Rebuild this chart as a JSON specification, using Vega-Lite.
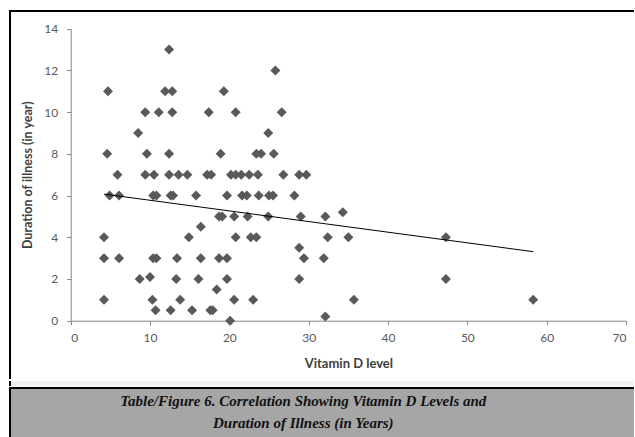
{
  "$schema": "https://vega.github.io/schema/vega-lite/v6.json",
  "background": "white",
  "padding": {"left": 9, "top": 10, "right": 0, "bottom": 0},
  "spacing": 0,
  "config": {"font": "Lato", "axis": {"grid": false}},
  "vconcat": [
    {
      "width": 624,
      "height": 368,
      "view": {"fill": "white", "stroke": "black", "strokeWidth": 2, "strokeDash": [624, 992, 368]},
      "layer": [
        {
          "data": {"values": [
            {"vitd": 12.4, "dur": 13},
            {"vitd": 25.8, "dur": 12},
            {"vitd": 4.7, "dur": 11}, {"vitd": 11.9, "dur": 11}, {"vitd": 12.8, "dur": 11}, {"vitd": 19.3, "dur": 11},
            {"vitd": 9.4, "dur": 10}, {"vitd": 11.1, "dur": 10}, {"vitd": 12.8, "dur": 10}, {"vitd": 17.4, "dur": 10}, {"vitd": 20.8, "dur": 10}, {"vitd": 26.6, "dur": 10},
            {"vitd": 8.5, "dur": 9}, {"vitd": 24.9, "dur": 9},
            {"vitd": 4.6, "dur": 8}, {"vitd": 9.6, "dur": 8}, {"vitd": 12.4, "dur": 8}, {"vitd": 18.9, "dur": 8}, {"vitd": 23.4, "dur": 8}, {"vitd": 24.0, "dur": 8}, {"vitd": 25.6, "dur": 8},
            {"vitd": 5.9, "dur": 7}, {"vitd": 9.4, "dur": 7}, {"vitd": 10.5, "dur": 7}, {"vitd": 12.4, "dur": 7}, {"vitd": 13.6, "dur": 7}, {"vitd": 14.7, "dur": 7}, {"vitd": 17.2, "dur": 7}, {"vitd": 17.7, "dur": 7}, {"vitd": 20.2, "dur": 7}, {"vitd": 20.8, "dur": 7}, {"vitd": 21.5, "dur": 7}, {"vitd": 22.5, "dur": 7}, {"vitd": 23.6, "dur": 7}, {"vitd": 26.8, "dur": 7}, {"vitd": 28.8, "dur": 7}, {"vitd": 29.7, "dur": 7},
            {"vitd": 4.9, "dur": 6}, {"vitd": 6.1, "dur": 6}, {"vitd": 10.4, "dur": 6}, {"vitd": 10.8, "dur": 6}, {"vitd": 12.6, "dur": 6}, {"vitd": 12.9, "dur": 6}, {"vitd": 15.8, "dur": 6}, {"vitd": 19.7, "dur": 6}, {"vitd": 21.6, "dur": 6}, {"vitd": 22.2, "dur": 6}, {"vitd": 23.7, "dur": 6}, {"vitd": 25.0, "dur": 6}, {"vitd": 25.5, "dur": 6}, {"vitd": 28.2, "dur": 6},
            {"vitd": 18.7, "dur": 5}, {"vitd": 19.1, "dur": 5}, {"vitd": 20.6, "dur": 5}, {"vitd": 22.3, "dur": 5}, {"vitd": 24.9, "dur": 5}, {"vitd": 29.0, "dur": 5}, {"vitd": 32.1, "dur": 5}, {"vitd": 34.3, "dur": 5.2},
            {"vitd": 16.4, "dur": 4.5},
            {"vitd": 4.2, "dur": 4}, {"vitd": 14.9, "dur": 4}, {"vitd": 20.8, "dur": 4}, {"vitd": 22.7, "dur": 4}, {"vitd": 23.4, "dur": 4}, {"vitd": 32.4, "dur": 4}, {"vitd": 35.0, "dur": 4}, {"vitd": 47.3, "dur": 4},
            {"vitd": 28.8, "dur": 3.5},
            {"vitd": 4.2, "dur": 3}, {"vitd": 6.1, "dur": 3}, {"vitd": 10.4, "dur": 3}, {"vitd": 10.8, "dur": 3}, {"vitd": 13.4, "dur": 3}, {"vitd": 16.4, "dur": 3}, {"vitd": 18.7, "dur": 3}, {"vitd": 19.7, "dur": 3}, {"vitd": 29.4, "dur": 3}, {"vitd": 31.9, "dur": 3},
            {"vitd": 10.0, "dur": 2.1},
            {"vitd": 8.7, "dur": 2}, {"vitd": 13.3, "dur": 2}, {"vitd": 16.1, "dur": 2}, {"vitd": 19.7, "dur": 2}, {"vitd": 28.8, "dur": 2}, {"vitd": 47.3, "dur": 2},
            {"vitd": 18.4, "dur": 1.5},
            {"vitd": 4.2, "dur": 1}, {"vitd": 10.3, "dur": 1}, {"vitd": 13.8, "dur": 1}, {"vitd": 20.6, "dur": 1}, {"vitd": 23.0, "dur": 1}, {"vitd": 35.7, "dur": 1}, {"vitd": 58.3, "dur": 1},
            {"vitd": 10.7, "dur": 0.5}, {"vitd": 12.6, "dur": 0.5}, {"vitd": 15.3, "dur": 0.5}, {"vitd": 17.6, "dur": 0.5}, {"vitd": 17.9, "dur": 0.5},
            {"vitd": 20.1, "dur": 0},
            {"vitd": 32.1, "dur": 0.2}
          ]},
          "mark": {"type": "point", "shape": "diamond", "filled": true, "size": 100, "color": "#595959", "opacity": 1},
          "encoding": {
            "x": {
              "field": "vitd", "type": "quantitative",
              "scale": {"domain": [0, 70], "range": [60.7, 616], "nice": false},
              "axis": {
                "title": "Vitamin D level", "offset": -58.3, "values": [0, 10, 20, 30, 40, 50, 60, 70],
                "domainColor": "#868686", "tickColor": "#868686", "tickSize": 4,
                "labelColor": "#595959", "labelFontSize": 12, "labelPadding": 8,
                "titleFontSize": 13, "titleFontWeight": "bold", "titleColor": "#404040", "titlePadding": 14
              }
            },
            "y": {
              "field": "dur", "type": "quantitative",
              "scale": {"domain": [0, 14], "range": [309.7, 17.7], "nice": false},
              "axis": {
                "title": "Duration of illness (in year)", "offset": -60.7, "values": [0, 2, 4, 6, 8, 10, 12, 14],
                "domainColor": "#868686", "tickColor": "#868686", "tickSize": 4,
                "labelColor": "#595959", "labelFontSize": 12, "labelPadding": 9,
                "titleFontSize": 12.5, "titleFontWeight": "bold", "titleColor": "#404040", "titlePadding": 9
              }
            }
          }
        },
        {
          "data": {"values": [{"vitd": 4.2, "dur": 6.07}, {"vitd": 58.3, "dur": 3.31}]},
          "mark": {"type": "line", "color": "black", "strokeWidth": 1},
          "encoding": {
            "x": {"field": "vitd", "type": "quantitative"},
            "y": {"field": "dur", "type": "quantitative"}
          }
        }
      ]
    },
    {
      "width": 624,
      "height": 5,
      "view": {"fill": "#f2f2f2", "stroke": "black", "strokeWidth": 2, "strokeDash": [0, 1253, 5]},
      "data": {"values": []},
      "mark": "point",
      "encoding": {}
    },
    {
      "width": 624,
      "height": 53,
      "view": {"fill": "#a6a6a6", "stroke": "black", "strokeWidth": 2, "strokeDash": [624, 677, 53]},
      "data": {"values": [{"caption": ["Table/Figure 6. Correlation Showing Vitamin D Levels and", "Duration of Illness (in Years)"]}]},
      "mark": {"type": "text", "font": "Liberation Serif", "fontSize": 15, "fontWeight": "bold", "fontStyle": "italic", "lineHeight": 22, "align": "center", "baseline": "middle", "color": "#111111"},
      "encoding": {
        "text": {"field": "caption"},
        "x": {"datum": 0.47, "type": "quantitative", "scale": {"domain": [0, 1]}, "axis": null},
        "y": {"datum": 0.755, "type": "quantitative", "scale": {"domain": [0, 1]}, "axis": null}
      }
    }
  ]
}
